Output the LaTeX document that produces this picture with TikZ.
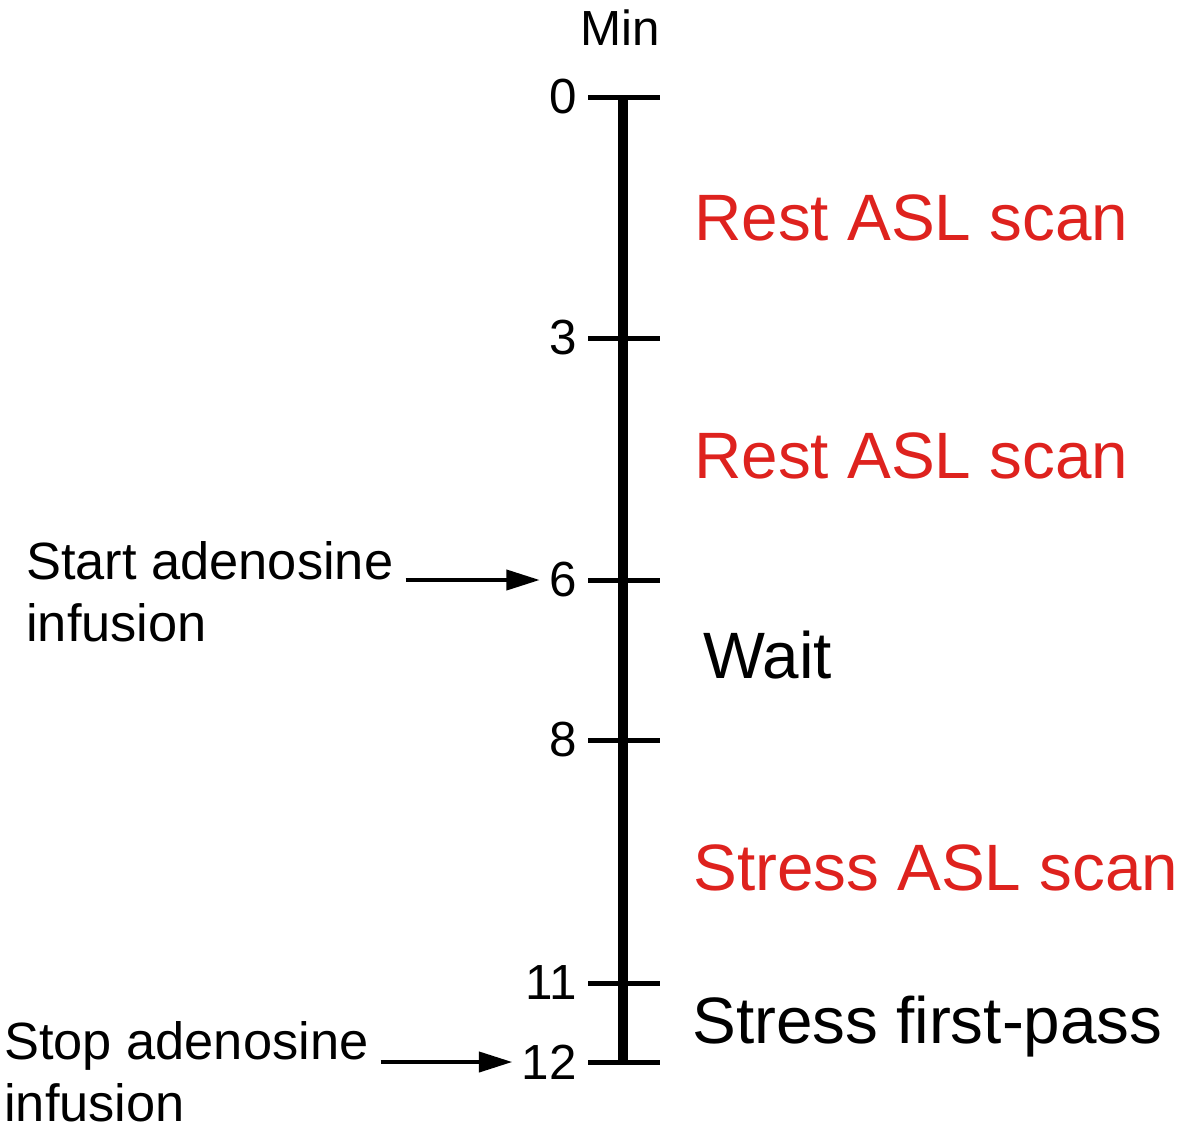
\documentclass[tikz,border=0pt]{standalone}
\usepackage{fontspec}
\setmainfont{Liberation Sans}
\usetikzlibrary{arrows.meta}

\definecolor{scanred}{RGB}{222,34,30}

\begin{document}
\begin{tikzpicture}[x=0.75pt,y=0.75pt,yscale=-1,xscale=1,
  tick/.style={line width=3.75pt},
  minlab/.style={anchor=east,inner sep=0pt,font=\fontsize{37}{44}\selectfont},
  phase/.style={anchor=base west,inner sep=0pt,font=\fontsize{49.2}{58}\selectfont},
  note/.style={anchor=north west,inner sep=0pt,align=left,font=\fontsize{39.3}{46.5}\selectfont},
  push/.style={line width=3pt,shorten <=9pt,shorten >=7pt,-{Triangle[length=25pt,width=15pt]}}]
\useasboundingbox (0,0) rectangle (1200,1139);

% time axis
\draw[line width=7.5pt] (623,95) -- (623,1064);
\node[minlab,anchor=base] (minutes) at (620,45) {Min};

% ticks and minute labels
\foreach \m/\yy in {0/97,3/338,6/580,8/740,11/983,12/1062}{
  \draw[tick] (588,\yy) -- (660,\yy);
  \node[minlab] (m\m) at (577,\yy) {\m};
}

% phases
\node[phase,text=scanred] (rest1) at (694,240) {Rest ASL scan};
\node[phase,text=scanred] (rest2) at (694,478) {Rest ASL scan};
\node[phase] (wait) at (703,678) {Wait};
\node[phase,text=scanred] (stress) at (693,890) {Stress ASL scan};
\node[phase] (firstpass) at (692,1043) {Stress first-pass};

% adenosine notes
\node[note] (start) at (26,541) {Start adenosine\\infusion};
\node[note] (stop) at (4,1021) {Stop adenosine\\infusion};
\draw[push] (start.east |- m6.west) -- (m6.west);
\draw[push] (stop.east |- m12.west) -- (m12.west);

\end{tikzpicture}
\end{document}
